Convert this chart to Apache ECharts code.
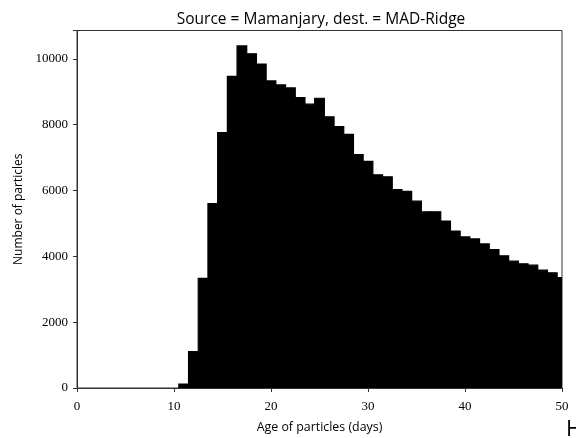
<!DOCTYPE html>
<html>
<head>
<meta charset="utf-8">
<script src="https://cdn.jsdelivr.net/npm/echarts@6/dist/echarts.min.js"></script>
<style>html,body{margin:0;padding:0;background:#fff}#c{width:576px;height:438px}</style>
</head>
<body>
<div id="c"></div>
<script>
// Histogram bins (centre in days, bin width 1 day)
const ages = [11,12,13,14,15,16,17,18,19,20,21,22,23,24,25,26,27,28,29,30,31,32,33,34,35,36,37,38,39,40,41,42,43,44,45,46,47,48,49,50];
const counts = [120,1105,3330,5600,7757,9466,10392,10151,9840,9327,9206,9116,8823,8621,8802,8240,7938,7706,7093,6882,6478,6417,6025,5976,5675,5352,5352,5071,4769,4588,4528,4377,4205,4014,3852,3773,3731,3580,3501,3350];
const xTicks = [0,10,20,30,40,50];
const yTicks = [0,2000,4000,6000,8000,10000];

const chart = echarts.init(document.getElementById('c'), null, {renderer:'canvas'});
const serif = 'Liberation Serif';
const sans = 'Open Sans';
chart.setOption({
  animation:false,
  title:{text:'Source = Mamanjary, dest. = MAD-Ridge', left:316, top:7, textAlign:'center',
    textStyle:{fontFamily:sans, fontWeight:'normal', fontSize:15.5, color:'#000'}},
  grid:{left:77, right:14, top:30.5, bottom:47.7, show:true, borderColor:'#333', borderWidth:1, backgroundColor:'transparent'},
  xAxis:{type:'value', min:0, max:50, interval:10,
    name:'Age of particles (days)', nameLocation:'middle', nameGap:33,
    nameTextStyle:{fontFamily:sans, fontSize:12.4, color:'#000'},
    axisLine:{show:true, lineStyle:{color:'#333', width:1}},
    axisTick:{show:true, length:4, lineStyle:{color:'#333'}},
    axisLabel:{fontFamily:serif, fontSize:13, color:'#000', margin:12,
      formatter:v=> xTicks.includes(v)? String(v):''},
    splitLine:{show:false}},
  yAxis:{type:'value', min:0, max:10860, interval:2000,
    name:'Number of particles', nameLocation:'middle', nameGap:51, nameRotate:90,
    nameTextStyle:{fontFamily:sans, fontSize:12, color:'#000'},
    axisLine:{show:true, lineStyle:{color:'#333', width:1}},
    axisTick:{show:true, length:4, lineStyle:{color:'#333'}},
    axisLabel:{fontFamily:serif, fontSize:13, color:'#000', margin:9,
      formatter:v=> yTicks.includes(v)? String(v):''},
    splitLine:{show:false}},
  graphic:[{type:'text', left:566, top:419, style:{text:'H', fontFamily:sans, fontSize:22, fill:'#000'}}],
  series:[{
    type:'custom', clip:true,
    data: ages.map((a,i)=>[a, counts[i]]),
    encode:{x:0, y:1},
    renderItem:(params, api)=>{
      const x = api.value(0), v = api.value(1);
      const p0 = api.coord([x-0.5, v]);
      const p1 = api.coord([x+0.5, 0]);
      return {type:'rect', shape:{x:p0[0], y:p0[1], width:p1[0]-p0[0], height:p1[1]-p0[1]},
        style:{fill:'#000', stroke:'#000', lineWidth:1.2}};
    }
  }]
});
</script>
</body>
</html>
